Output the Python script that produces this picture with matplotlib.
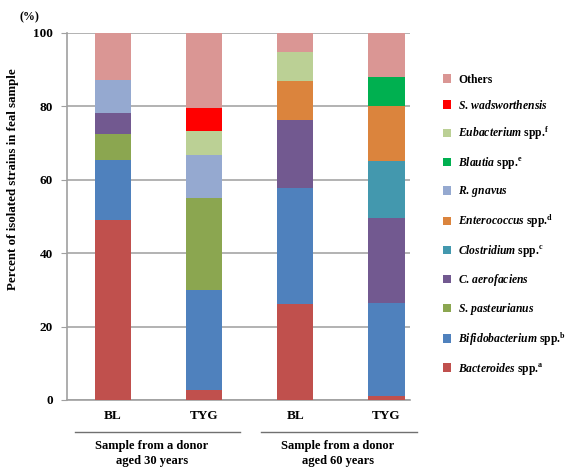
import matplotlib
matplotlib.use('Agg')
import matplotlib.pyplot as plt
from matplotlib.lines import Line2D
import numpy as np

plt.rcParams['font.family'] = 'Liberation Serif'
plt.rcParams['font.weight'] = 'bold'
plt.rcParams['mathtext.fontset'] = 'custom'
plt.rcParams['mathtext.it'] = 'Liberation Serif:bold:italic'
plt.rcParams['mathtext.rm'] = 'Liberation Serif:bold'
plt.rcParams['mathtext.bf'] = 'Liberation Serif:bold'

# samples
samples = ['BL', 'TYG', 'BL', 'TYG']
groups = ['Sample from a donor\naged 30 years', 'Sample from a donor\naged 60 years']

# taxa, stacked from the bottom up
taxa = [r'$Bacteroides$ spp.$^{\mathrm{a}}$',
        r'$Bifidobacterium$ spp.$^{\mathrm{b}}$',
        r'$S.\,pasteurianus$',
        r'$C.\,aerofaciens$',
        r'$Clostridium$ spp.$^{\mathrm{c}}$',
        r'$Enterococcus$ spp.$^{\mathrm{d}}$',
        r'$R.\,gnavus$',
        r'$Blautia$ spp.$^{\mathrm{e}}$',
        r'$Eubacterium$ spp.$^{\mathrm{f}}$',
        r'$S.\,wadsworthensis$',
        'Others']
colors = ['#C0504D', '#4F81BD', '#8BA650', '#725990', '#4398AE', '#DB843D',
          '#95A9D0', '#00B050', '#BBD095', '#FF0000', '#DA9694']

# percentages per sample (BL30, TYG30, BL60, TYG60)
bacteroides = [49.0, 2.7, 26.2, 1.2]
bifido = [16.4, 27.4, 31.6, 25.3]
s_past = [7.2, 24.9, 0, 0]
c_aero = [5.7, 0, 18.5, 23.1]
clostridium = [0, 0, 0, 15.5]
enterococcus = [0, 0, 10.6, 15.0]
r_gnavus = [9.0, 11.7, 0, 0]
blautia = [0, 0, 0, 8.0]
eubacterium = [0, 6.7, 7.8, 0]
s_wads = [0, 6.2, 0, 0]
others = [12.7, 20.4, 5.3, 11.9]

values = [bacteroides, bifido, s_past, c_aero, clostridium, enterococcus,
          r_gnavus, blautia, eubacterium, s_wads, others]

fig = plt.figure(figsize=(5.71, 4.67), dpi=100)
ax = fig.add_axes([0.117, 0.1435, 0.601, 0.7859])

x = np.arange(len(samples))
bottom = np.zeros(len(samples))
handles = []
for name, vals, c in zip(taxa, values, colors):
    vals = np.array(vals)
    b = ax.bar(x, vals, 0.4, bottom=bottom, color=c, linewidth=0, label=name, zorder=3)
    handles.append(b)
    bottom += vals

ax.set_ylim(0, 100)
ax.set_xlim(-0.505, 3.26)
ax.set_yticks(np.arange(0, 101, 20))
ax.tick_params(axis='y', labelsize=9.5, length=4, color='#A0A0A0', pad=6)
ax.tick_params(axis='x', length=0, labelsize=9.5, pad=7)
ax.set_xticks(x)
ax.set_xticklabels(samples)
ax.yaxis.grid(True, color='#A6A6A6', linewidth=1.2, zorder=0)
for s in ['top', 'right']:
    ax.spines[s].set_visible(False)
for s in ['left', 'bottom']:
    ax.spines[s].set_color('#A0A0A0')
    ax.spines[s].set_linewidth(1.2)

fig.text(0.023, 0.617, 'Percent of isolated strains in feal sample', fontsize=9.3,
         rotation=90, ha='center', va='center')
fig.text(0.052, 0.962, '(%)', fontsize=8.5, ha='center', va='center')

# group lines and labels
fig.add_artist(Line2D([0.131, 0.421], [0.075, 0.075], color='#707070', lw=1))
fig.add_artist(Line2D([0.457, 0.73], [0.075, 0.075], color='#707070', lw=1))
fig.text(0.266, 0.028, groups[0], fontsize=9, ha='center', va='center', linespacing=1.35)
fig.text(0.592, 0.028, groups[1], fontsize=9, ha='center', va='center', linespacing=1.35)

leg = fig.legend(handles[::-1], taxa[::-1], loc='upper left',
                 bbox_to_anchor=(0.757, 0.865), frameon=False, fontsize=8.4,
                 handlelength=0.75, handleheight=0.75, handletextpad=0.6,
                 labelspacing=1.12)

fig.savefig('out.png', dpi=100)
